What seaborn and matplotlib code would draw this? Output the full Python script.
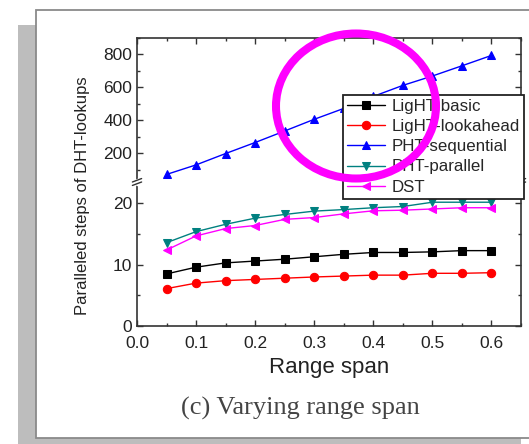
import numpy as np
import seaborn as sns
import matplotlib.pyplot as plt
from matplotlib.patches import Rectangle, Ellipse
from matplotlib.ticker import MultipleLocator


range_span = [0.05, 0.10, 0.15, 0.20, 0.25, 0.30, 0.35, 0.40, 0.45, 0.50, 0.55, 0.60]

light_basic = [8.5, 9.6, 10.3, 10.6, 10.9, 11.3, 11.7, 12.0, 12.0, 12.1, 12.3, 12.3]
light_lookahead = [6.1, 7.0, 7.4, 7.6, 7.8, 8.0, 8.15, 8.3, 8.3, 8.6, 8.6, 8.7]
pht_sequential = [71, 129, 198, 265, 335, 406, 472, 545, 612, 669, 731, 794]
pht_parallel = [13.6, 15.4, 16.6, 17.6, 18.2, 18.75, 19.0, 19.3, 19.5, 20.2, 20.2, 20.2]
dst = [12.4, 14.7, 15.9, 16.4, 17.4, 17.7, 18.3, 18.8, 18.9, 19.1, 19.3, 19.3]

series_names = ['LigHT-basic', 'LigHT-lookahead', 'PHT-sequential', 'PHT-parallel', 'DST']
series_values = [light_basic, light_lookahead, pht_sequential, pht_parallel, dst]
series_colors = ['#000000', '#ff0000', '#0000ff', '#008080', '#ff00ff']
series_markers = ['s', 'o', '^', 'v', '<']

W, H = 529, 444


def fx(px):
    return px / W


def fy(py):
    return 1 - py / H


sns.set_style('ticks')
plt.rcParams['font.family'] = ['Liberation Sans', 'DejaVu Sans']
plt.rcParams['xtick.direction'] = 'in'
plt.rcParams['ytick.direction'] = 'in'

fig = plt.figure(figsize=(W / 100, H / 100), dpi=100)
fig.patch.set_facecolor('white')

# screenshot frame: grey shadow and white panel
fig.add_artist(Rectangle((fx(18), 0), fx(521) - fx(18), fy(25), transform=fig.transFigure,
                         facecolor='#bdbdbd', edgecolor='none', zorder=-5))
fig.add_artist(Rectangle((fx(36), fy(438)), 1.0, fy(10) - fy(438), transform=fig.transFigure,
                         facecolor='white', edgecolor='#8a8a8a', linewidth=1.3, zorder=-4))

left, right = fx(137), fx(521)
ax_top = fig.add_axes([left, fy(182), right - left, fy(38) - fy(182)])
ax_bot = fig.add_axes([left, fy(326), right - left, fy(182) - fy(326)])

for name, vals, c, m in zip(series_names, series_values, series_colors, series_markers):
    sns.lineplot(x=range_span, y=vals, ax=ax_bot, color=c, marker=m, markersize=6,
                 markeredgecolor=c, linewidth=1.0, label=name, legend=False)
    if name == 'PHT-sequential':
        sns.lineplot(x=range_span, y=vals, ax=ax_top, color=c, marker=m, markersize=6,
                     markeredgecolor=c, linewidth=1.0, legend=False)

for ax in (ax_top, ax_bot):
    ax.set_xlim(0, 0.65)
    ax.xaxis.set_major_locator(MultipleLocator(0.1))
    ax.xaxis.set_minor_locator(MultipleLocator(0.05))
    ax.tick_params(which='both', top=True, right=True, colors='#333333',
                   labelsize=12.5, labelcolor='#222222')
    ax.tick_params(which='major', length=4, width=1)
    ax.tick_params(which='minor', length=2.5, width=1)
    ax.tick_params(axis='x', pad=7)
    for sp in ax.spines.values():
        sp.set_color('#333333')
        sp.set_linewidth(1.2)
    ax.set_xlabel('')
    ax.set_ylabel('')

ax_top.set_ylim(25, 900)
ax_top.set_yticks([200, 400, 600, 800])
ax_top.yaxis.set_minor_locator(MultipleLocator(100))
ax_top.spines['bottom'].set_visible(False)
ax_top.tick_params(which='both', bottom=False, labelbottom=False)

ax_bot.set_ylim(0, 23.5)
ax_bot.set_yticks([0, 10, 20])
ax_bot.yaxis.set_minor_locator(MultipleLocator(5))
ax_bot.spines['top'].set_visible(False)
ax_bot.tick_params(which='both', top=False)
ax_bot.set_xticks([0.0, 0.1, 0.2, 0.3, 0.4, 0.5, 0.6])
ax_bot.set_xticklabels(['0.0', '0.1', '0.2', '0.3', '0.4', '0.5', '0.6'])

# axis break marks
for xb in (0, 1):
    ax_bot.plot([xb, xb], [0.985, 1.015], transform=ax_bot.transAxes,
                color='white', lw=2.5, clip_on=False, zorder=3)
    for dy in (-0.012, 0.012):
        ax_bot.plot([xb - 0.012, xb + 0.012], [1 + dy - 0.012, 1 + dy + 0.012],
                    transform=ax_bot.transAxes, color='#333333', lw=1, clip_on=False,
                    zorder=4)

fig.text(fx(83), fy(196), 'Paralleled steps of DHT-lookups', rotation=90,
         ha='center', va='center', fontsize=12, color='#222222')
fig.text(fx(329), fy(367), 'Range span', ha='center', va='center',
         fontsize=16, color='#222222')
fig.text(fx(300), fy(408), '(c) Varying range span', ha='center', va='center',
         fontsize=19, color='#444444', family=['Liberation Serif', 'DejaVu Serif'])

handles, labels = ax_bot.get_legend_handles_labels()
leg = fig.legend(handles, labels, loc='upper left', bbox_to_anchor=(fx(343), fy(95)),
                 frameon=True, fancybox=False, edgecolor='#222222', framealpha=1,
                 fontsize=12.2, labelspacing=0.3, handlelength=2.2, borderpad=0.25,
                 handletextpad=0.4, borderaxespad=0)
leg.get_frame().set_linewidth(1.3)

fig.add_artist(Ellipse((fx(356), fy(106)), width=160 / W, height=145 / H,
                       transform=fig.transFigure, fill=False, edgecolor='#ff00ff',
                       linewidth=5.8, zorder=20))

plt.savefig('out.png', dpi=100)
